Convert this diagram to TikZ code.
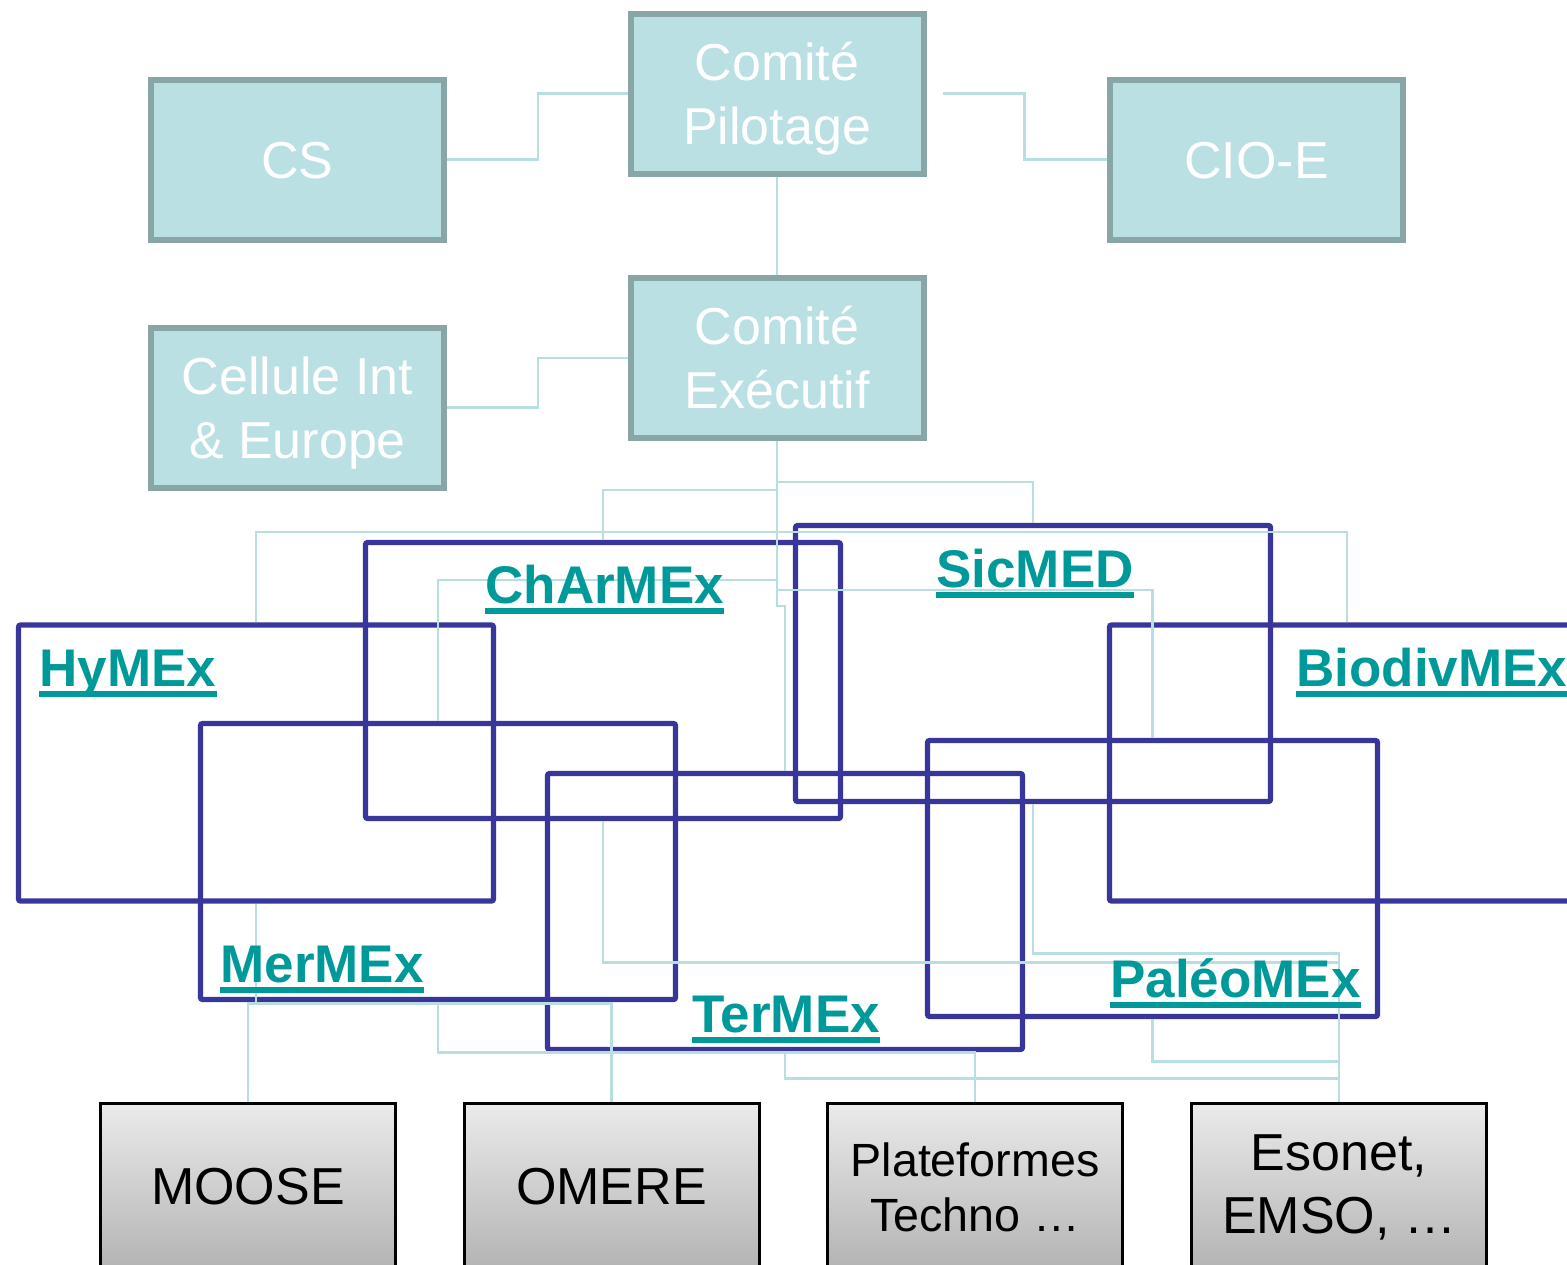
\documentclass[tikz,border=0pt]{standalone}
\usepackage{fontspec}
\setmainfont{Liberation Sans}
\definecolor{boxfill}{RGB}{187,224,227}
\definecolor{boxline}{RGB}{138,165,166}
\definecolor{linkcol}{RGB}{184,222,226}
\definecolor{wgblue}{RGB}{56,54,154}
\definecolor{wgteal}{RGB}{0,153,153}

\begin{document}
\begin{tikzpicture}[
  x=0.5pt, y=-0.5pt,
  tbox/.style={rectangle, draw=boxline, line width=3pt, fill=boxfill, text=white,
               minimum width=146.5pt, minimum height=80pt, align=center,
               text height=50.6pt, text depth=0pt,
               font=\fontsize{26}{32}\selectfont},
  wgbox/.style={rectangle, draw=wgblue, line width=2.6pt, rounded corners=1pt,
                minimum width=237.5pt, minimum height=138pt},
  wglbl/.style={anchor=base west, inner sep=0pt, text=wgteal,
                font=\fontsize{26.5}{30}\selectfont\bfseries,
                append after command={([yshift=-4pt]\tikzlastnode.base west)
                  edge[draw=wgteal, line width=2.7pt] ([yshift=-4pt]\tikzlastnode.base east)}},
  obox/.style={rectangle, draw=black, line width=1.5pt, top color=black!8,
               bottom color=black!30, minimum width=147.5pt, minimum height=84pt,
               align=center, font=\fontsize{26}{31.5}\selectfont},
  link/.style={draw=linkcol, line width=1.4pt}
]
\useasboundingbox (0,0) rectangle (1567,1264);
\clip (0,0) rectangle (1567,1264);

% ---------------- steering boxes ----------------
\node[tbox, text height=18.6pt] (cs)   at (297.5,159.5)  {CS};
\node[tbox] (pilot) at (777,93.5)     {Comité\\Pilotage};
\node[tbox, text height=18.6pt] (cioe) at (1256.5,159.5) {CIO-E};
\node[tbox] (cell)  at (297.5,407.5)  {Cellule Int\\\& Europe};
\node[tbox] (exec)  at (777,358)      {Comité\\Exécutif};

% ---------------- workgroup frames ----------------
\node[wgbox] (hymex)   at (256,763)    {};
\node[wgbox] (charmex) at (603,680.5)  {};
\node[wgbox] (sicmed)  at (1033,663.5) {};
\node[wgbox] (biodiv)  at (1347,763)   {};
\node[wgbox] (mermex)  at (438,861.5)  {};
\node[wgbox] (termex)  at (785,911.5)  {};
\node[wgbox, minimum width=225pt] (paleo) at (1152.5,878.5) {};

% ---------------- observatories ----------------
\node[obox] (moose)  at (248,1187)   {MOOSE};
\node[obox] (omere)  at (611.5,1187) {OMERE};
\node[obox, font=\fontsize{23.3}{27.5}\selectfont] (plat) at (975,1187) {Plateformes\\Techno …};
\node[obox] (esonet) at (1339,1187)  {Esonet,\\EMSO, …};

% ---------------- links ----------------
\draw[link] (cs.east) -- ++(91,0) |- (pilot.west);
\draw[link] ([xshift=8pt]pilot.east) -- ++(82,0) |- (cioe.west);
\draw[link] (pilot) -- (exec);
\draw[link] (cell.east) -- ++(91,0) |- (exec.west);

\draw[link] (exec.south) -- ++(0,41)  -| (sicmed.north);
\draw[link] (exec.south) -- ++(0,49)  -| (charmex.north);
\draw[link] (exec.south) -- ++(0,91)  -| (hymex.north);
\draw[link] (exec.south) -- ++(0,91)  -| (biodiv.north);
\draw[link] (exec.south) -- ++(0,139) -| (mermex.north);
\draw[link] (exec.south) -- ++(0,149) -| (paleo.north);
\draw[link] (exec.south) -- ++(0,165) -| (termex.north);

\draw[link] (hymex.south)   -- ++(0,100) -| (moose.north);
\draw[link] (hymex.south)   -- ++(0,100) -| (omere.north);
\draw[link] (mermex.south)  -- ++(0,50)  -| (plat.north);
\draw[link] (termex.south)  -- ++(0,26)  -| (esonet.north);
\draw[link] (charmex.south) -- ++(0,141) -| (esonet.north);
\draw[link] (sicmed.south)  -- ++(0,149) -| (esonet.north);
\draw[link] (paleo.south)   -- ++(0,42)  -| (esonet.north);

% ---------------- workgroup labels ----------------
\node[wglbl] (hymexlbl)   at (39,686)   {HyMEx};
\node[wglbl] (charmexlbl) at (485,603)  {ChArMEx};
\node[wglbl] (sicmedlbl)  at (936,587)  {SicMED};
\node[wglbl] (biodivlbl)  at (1296,686) {BiodivMEx};
\node[wglbl] (mermexlbl)  at (220,982)  {MerMEx};
\node[wglbl] (termexlbl)  at (692,1032) {TerMEx};
\node[wglbl] (paleolbl)   at (1110,997) {PaléoMEx};
\end{tikzpicture}
\end{document}
